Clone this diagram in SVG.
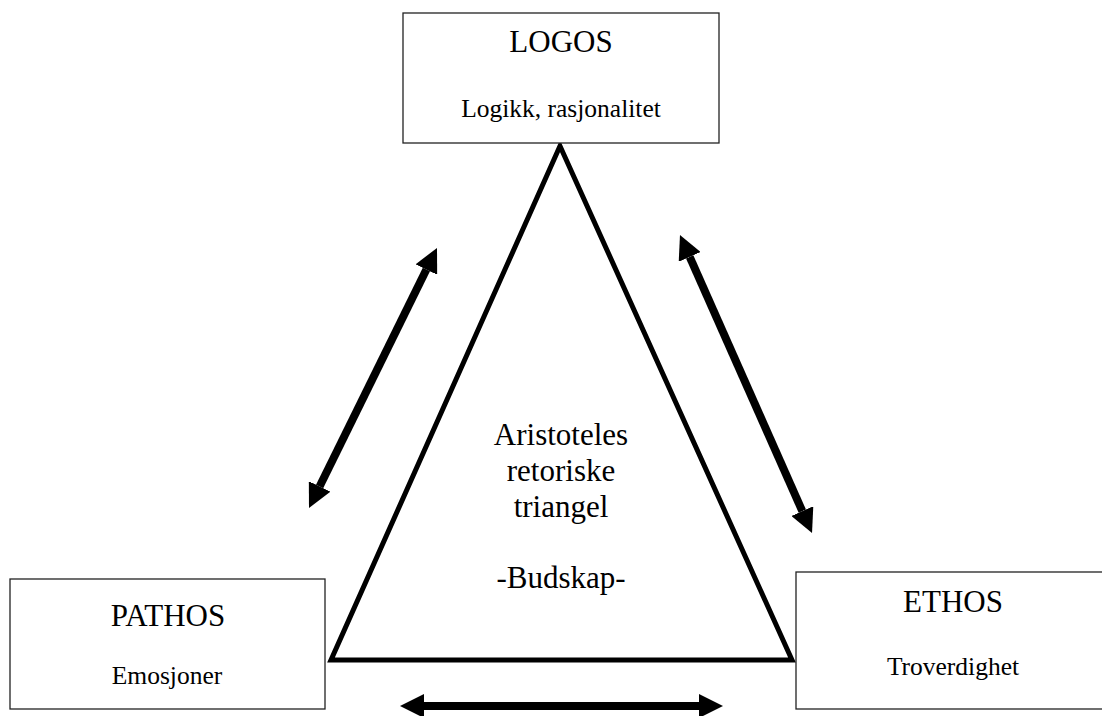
<svg xmlns="http://www.w3.org/2000/svg" width="1102" height="716" viewBox="0 0 1102 716">
<style>
.box{fill:#fff;stroke:#222;stroke-width:1.3}
.t{font-family:"Liberation Serif","Times New Roman",serif;fill:#000;text-anchor:middle}
.title{font-size:31px}
.sub{font-size:25.5px}
.tri{fill:none;stroke:#000;stroke-width:5;stroke-linejoin:miter}
.arr{stroke:#000;stroke-width:8;fill:none;marker-start:url(#head);marker-end:url(#head)}
</style>
<defs>
<marker id="head" markerUnits="userSpaceOnUse" viewBox="0 0 24 24" refX="0" refY="12" markerWidth="24" markerHeight="24" orient="auto-start-reverse">
<path d="M0,0 L24,12 L0,24 z" fill="#000"/>
</marker>
</defs>
<rect width="1102" height="716" fill="#fff"/>
<g id="triangle">
<polygon class="tri" points="560,146 331,660 792,660"/>
<text class="t title" x="561" y="445">Aristoteles</text>
<text class="t title" x="561" y="481">retoriske</text>
<text class="t title" x="561" y="517">triangel</text>
<text class="t title" x="561" y="588">-Budskap-</text>
</g>
<g id="logos">
<rect class="box" x="403" y="13" width="316" height="130"/>
<text class="t title" x="561" y="52">LOGOS</text>
<text class="t sub" x="561" y="117">Logikk, rasjonalitet</text>
</g>
<g id="pathos">
<rect class="box" x="10" y="579" width="315" height="130"/>
<text class="t title" x="168" y="626">PATHOS</text>
<text class="t sub" x="167" y="684">Emosjoner</text>
</g>
<g id="ethos">
<rect class="box" x="796" y="572" width="320" height="137"/>
<text class="t title" x="953" y="612">ETHOS</text>
<text class="t sub" x="953" y="675">Troverdighet</text>
</g>
<g id="connectors">
<line class="arr" x1="319.6" y1="486.5" x2="426.4" y2="269.5"/>
<line class="arr" x1="689.7" y1="256.9" x2="802.3" y2="511.1"/>
<line class="arr" x1="424" y1="706" x2="699" y2="706"/>
</g>
</svg>
